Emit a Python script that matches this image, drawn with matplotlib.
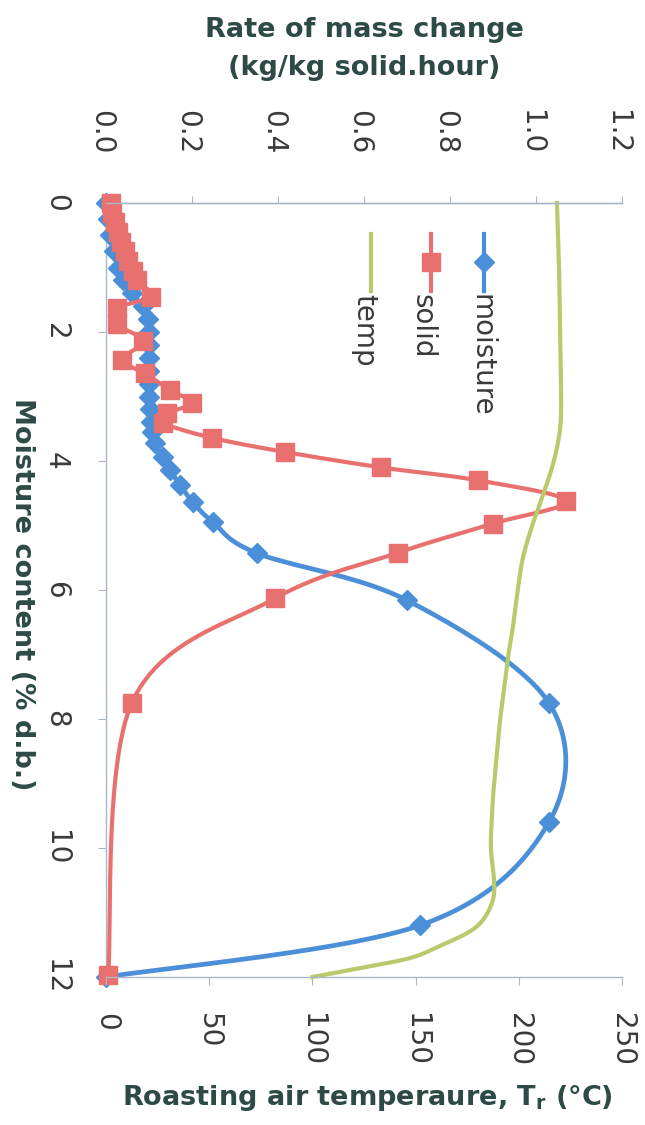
import numpy as np
import matplotlib
matplotlib.use('Agg')
import matplotlib.pyplot as plt
from matplotlib.transforms import ScaledTranslation

moisture_m = [0.0, 0.25, 0.5, 0.75, 1.0, 1.2, 1.4, 1.6, 1.8, 2.0, 2.2, 2.4, 2.6, 2.8,
              3.0, 3.2, 3.4, 3.55, 3.72, 3.94, 4.14, 4.37, 4.64, 4.95, 5.43, 6.16,
              7.75, 9.6, 11.2, 12.0]
moisture_rate = [0.0, 0.005, 0.01, 0.018, 0.028, 0.04, 0.06, 0.085, 0.097, 0.1, 0.1,
                 0.1, 0.1, 0.1, 0.101, 0.102, 0.105, 0.108, 0.114, 0.133, 0.149,
                 0.172, 0.202, 0.249, 0.351, 0.70, 1.03, 1.03, 0.73, 0.0]

solid_m = [0.0, 0.15, 0.3, 0.45, 0.6, 0.75, 0.9, 1.05, 1.2, 1.45, 1.63, 1.88, 2.14,
           2.43, 2.64, 2.9, 3.1, 3.26, 3.41, 3.64, 3.86, 4.1, 4.3, 4.62, 4.97,
           5.42, 6.13, 7.75, 11.97]
solid_rate = [0.012, 0.015, 0.02, 0.028, 0.035, 0.045, 0.05, 0.062, 0.072, 0.105,
              0.026, 0.026, 0.087, 0.037, 0.09, 0.149, 0.2, 0.142, 0.133, 0.246,
              0.416, 0.64, 0.865, 1.07, 0.9, 0.68, 0.393, 0.06, 0.005]

temp_m = [0, 1, 2, 3, 3.5, 4.0, 4.5, 5.0, 5.5, 6.0, 6.5, 7.0, 7.5, 8.0, 8.5, 9.0,
          9.5, 10.0, 10.5, 10.8, 11.1, 11.3, 11.5, 11.7, 11.85, 12]
temp_T = [218.5, 219.5, 220, 220.5, 220, 217, 212, 206.5, 202, 199.5, 197.5, 195,
          193, 191, 189.5, 188, 187, 186.5, 188, 187.5, 183, 176, 163, 148, 125, 100]

rate_ticks = [0.0, 0.2, 0.4, 0.6, 0.8, 1.0, 1.2]
temp_ticks = [0, 50, 100, 150, 200, 250]
m_ticks = [0, 2, 4, 6, 8, 10, 12]

BLUE = '#4a8fd8'
RED = '#e8716f'
GREEN = '#b8cb6c'
AXC = '#a8b8c8'
TXT = '#3a3a3a'
TITLE = '#2e4a47'


def smooth(xs, ys, sx, sy, n=24):
    # excel-like smoothed line (catmull-rom bezier in screen space)
    p = np.column_stack([np.asarray(xs, float) * sx, np.asarray(ys, float) * sy])
    p = np.vstack([p[0], p, p[-1]])
    t = np.linspace(0, 1, n)[:, None]
    out = []
    for i in range(1, len(p) - 2):
        p0, p1, p2, p3 = p[i - 1], p[i], p[i + 1], p[i + 2]
        c1 = p1 + (p2 - p0) / 6
        c2 = p2 - (p3 - p1) / 6
        seg = (1 - t) ** 3 * p1 + 3 * (1 - t) ** 2 * t * c1 + 3 * (1 - t) * t ** 2 * c2 + t ** 3 * p2
        out.append(seg if i == 1 else seg[1:])
    out = np.vstack(out)
    return out[:, 0] / sx, out[:, 1] / sy


W, H = 645, 1125
L, R, T, B = 106, 622, 203, 977
fig = plt.figure(figsize=(W / 100, H / 100), dpi=100)
ax = fig.add_axes([L / W, 1 - B / H, (R - L) / W, (B - T) / H])
ax2 = ax.twiny()

sx_rate = (R - L) / 1.2
sx_temp = (R - L) / 250.0
sy = (B - T) / 12.0

bx, by = smooth(moisture_rate, moisture_m, sx_rate, sy)
ax.plot(bx, by, color=BLUE, lw=3.4, clip_on=False, zorder=2)
ax.plot(moisture_rate, moisture_m, ls='none', marker='D', ms=10, color=BLUE,
        mec=BLUE, clip_on=False, zorder=3)

rx, ry = smooth(solid_rate, solid_m, sx_rate, sy)
ax.plot(rx, ry, color=RED, lw=3.0, clip_on=False, zorder=4)
ax.plot(solid_rate, solid_m, ls='none', marker='s', ms=13.5, color=RED,
        mec=RED, clip_on=False, zorder=5)

gx, gy = smooth(temp_T, temp_m, sx_temp, sy)
ax2.plot(gx, gy, color=GREEN, lw=3.0, clip_on=False)

ax.set_xlim(0, 1.2)
ax.set_ylim(12, 0)
ax2.set_xlim(0, 250)

ax.xaxis.tick_top()
ax.set_xticks(rate_ticks)
ax.set_xticklabels(['%.1f' % v for v in rate_ticks])
ax.set_yticks(m_ticks)
ax2.xaxis.tick_bottom()
ax2.set_xticks(temp_ticks)

for a in (ax, ax2):
    for s in a.spines.values():
        s.set_color(AXC)
        s.set_linewidth(1.0)
    a.spines['right'].set_visible(False)
    a.patch.set_visible(False)
ax.spines['bottom'].set_visible(False)
ax2.spines['left'].set_visible(False)

ax.tick_params(axis='x', which='both', top=True, bottom=False, direction='out',
               length=5, color=AXC, pad=30, labelsize=20, labelcolor=TXT,
               labelrotation=-90)
ax.tick_params(axis='y', direction='out', length=6, color=AXC, pad=20,
               labelsize=20, labelcolor=TXT, labelrotation=-90)
ax2.tick_params(axis='x', direction='out', length=6, color=AXC, pad=20,
                labelsize=20, labelcolor=TXT, labelrotation=-90)
for lab in ax.get_yticklabels():
    lab.set_va('center')
# top labels sit a little left of their ticks in the original
shift = ScaledTranslation(-0.05, 0, fig.dpi_scale_trans)
for lab in ax.get_xticklabels():
    lab.set_transform(lab.get_transform() + shift)

# axis titles
fig.text(364 / W, 1 - 30 / H, 'Rate of mass change', ha='center', va='center',
         fontsize=19.5, fontweight='bold', color=TITLE)
fig.text(364 / W, 1 - 68 / H, '(kg/kg solid.hour)', ha='center', va='center',
         fontsize=19.5, fontweight='bold', color=TITLE)
fig.text(367 / W, 1 - 1098 / H, r'Roasting air temperaure, T$_\mathregular{r}$ (°C)',
         ha='center', va='center', fontsize=19.5, fontweight='bold', color=TITLE)
fig.text(22 / W, 1 - 594 / H, 'Moisture content (% d.b.)', ha='center', va='center',
         rotation=-90, fontsize=19.5, fontweight='bold', color=TITLE)

# legend, drawn rotated like the rest of the chart
leg = [('moisture', BLUE, 'D', 10, 0.733, 0.727),
       ('solid', RED, 's', 13.5, 0.630, 0.614),
       ('temp', GREEN, None, 0, 0.514, 0.500)]
for name, col, mk, ms, xl, xt in leg:
    ax.plot([xl, xl], [0.960, 0.886], color=col, lw=3.0, transform=ax.transAxes,
            clip_on=False)
    if mk:
        ax.plot([xl], [0.924], marker=mk, ms=ms, color=col, mec=col,
                transform=ax.transAxes, clip_on=False)
    ax.text(xt, 0.882, name, transform=ax.transAxes, rotation=-90, ha='center',
            va='top', fontsize=20, color=TXT)

fig.savefig('out.png', dpi=100)
